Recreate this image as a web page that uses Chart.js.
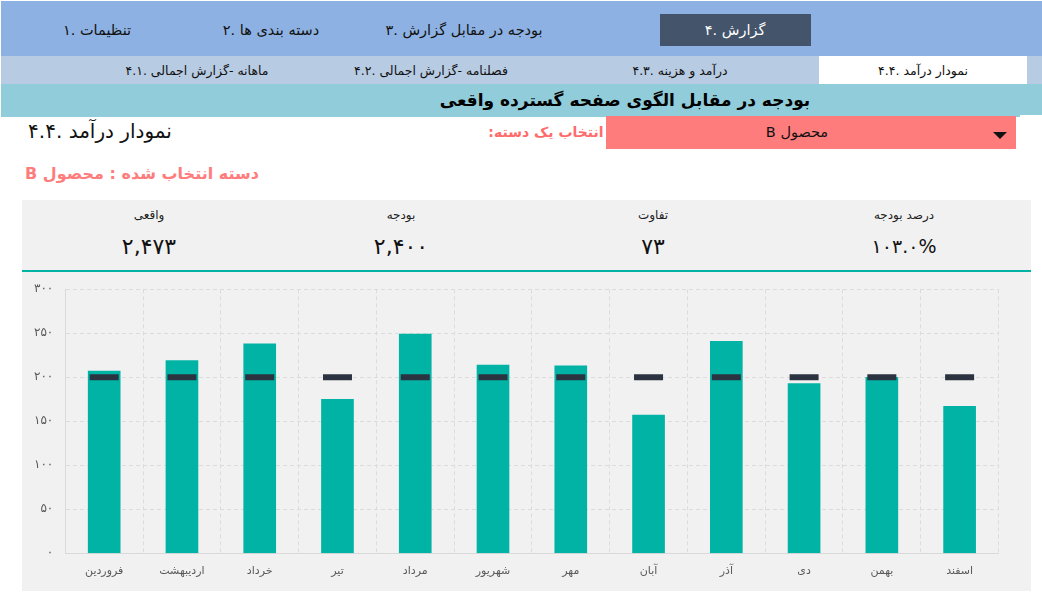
<!DOCTYPE html>
<html lang="fa">
<head>
<meta charset="utf-8">
<title>نمودار درآمد</title>
<script src="https://cdn.jsdelivr.net/npm/chart.js@4"></script>
<style>
  html, body { margin: 0; padding: 0; background: #fff; width: 1042px; height: 604px; overflow: hidden; }
  body { position: relative; font-family: "DejaVu Sans", "Noto Sans", sans-serif; color: #111; }
  .box { position: absolute; }
  .txt { position: absolute; white-space: nowrap; transform: translate(-50%, -50%); }
  canvas { position: absolute; left: 22px; top: 272px; }
</style>
</head>
<body>
<div class="box" style="left:1px;top:1px;width:1041px;height:55px;background:#8db1e2"></div>
<div class="box" style="left:1px;top:56px;width:1041px;height:28px;background:#b7cbe3"></div>
<div class="box" style="left:1px;top:84px;width:1041px;height:33px;background:#91ccda"></div>
<div class="box" style="left:1020px;top:115px;width:22px;height:2px;background:#fff"></div>
<div class="box" style="left:660px;top:14px;width:151px;height:32px;background:#44546a"></div>
<div class="box" style="left:819px;top:56px;width:208px;height:28px;background:#fff"></div>
<div class="box" style="left:606px;top:116px;width:410px;height:33px;background:#ff7c7c"></div>
<div class="box" style="left:993px;top:132px;width:0;height:0;border-left:7px solid transparent;border-right:7px solid transparent;border-top:7px solid #111"></div>
<div class="box" style="left:22px;top:200px;width:1009px;height:391px;background:#f1f1f1"></div>
<div class="box" style="left:22px;top:270px;width:1009px;height:2px;background:#00b3a4"></div>
<div id="texts"></div>
<canvas id="myChart" width="1009" height="319"></canvas>
<script>
var months = ["فروردین", "اردیبهشت", "خرداد", "تیر", "مرداد", "شهریور", "مهر", "آبان", "آذر", "دی", "بهمن", "اسفند"];
var actual = [207, 219, 238, 175, 249, 214, 213, 157, 241, 193, 200, 167];
var budget = [200, 200, 200, 200, 200, 200, 200, 200, 200, 200, 200, 200];
var yTicks = ["۰", "۵۰", "۱۰۰", "۱۵۰", "۲۰۰", "۲۵۰", "۳۰۰"];

var menu = ["تنظیمات .۱", "دسته بندی ها .۲", "بودجه در مقابل گزارش .۳", "گزارش .۴"];
var menuX = [97, 271, 464, 735];
var tabs = ["ماهانه -گزارش اجمالی .۴.۱", "فصلنامه -گزارش اجمالی .۴.۲", "درآمد و هزینه .۴.۳", "نمودار درآمد .۴.۴"];
var tabX = [197, 431, 680, 923];
var kpiNames = ["واقعی", "بودجه", "تفاوت", "درصد بودجه"];
var kpiValues = ["۲,۴۷۳", "۲,۴۰۰", "۷۳", "۱۰۳.۰%"];
var kpiX = [149, 401, 653, 904];

function addText(str, x, y, size, color, bold, dir) {
  var el = document.createElement('div');
  el.className = 'txt';
  el.dir = dir || 'rtl';
  el.textContent = str;
  el.style.left = x + 'px';
  el.style.top = y + 'px';
  el.style.fontSize = size + 'px';
  el.style.color = color || '#111';
  if (bold) el.style.fontWeight = 'bold';
  document.getElementById('texts').appendChild(el);
}

menu.forEach(function (m, i) { addText(m, menuX[i], 30, 14.5, i == 3 ? '#fff' : '#111'); });
tabs.forEach(function (t, i) { addText(t, tabX[i], 70, 12.5, '#111'); });
addText("بودجه در مقابل الگوی صفحه گسترده واقعی", 625, 100, 17, '#000', true);
addText("نمودار درآمد .۴.۴", 100, 131, 20, '#111');
addText("انتخاب یک دسته:", 546, 132, 14, '#ff6b6b', true);
addText("محصول B", 797, 132, 14.5, '#111');
addText("دسته انتخاب شده : محصول B", 142, 173, 16, '#ff7c7c', true);
kpiNames.forEach(function (k, i) {
  addText(k, kpiX[i], 215, 12, '#222');
  addText(kpiValues[i], kpiX[i], 246, i == 3 ? 19 : 22, '#111', false, 'ltr');
});

var ctx = document.getElementById('myChart').getContext('2d');
var chart = new Chart(ctx, {
  type: 'bar',
  data: {
    labels: months,
    datasets: [{
      type: 'line',
      label: 'بودجه',
      data: budget,
      showLine: false,
      pointStyle: 'line',
      pointRadius: 14.5,
      pointBorderWidth: 6,
      pointBorderColor: '#2b3340',
      pointBackgroundColor: '#2b3340',
      order: 0
    }, {
      label: 'واقعی',
      data: actual,
      backgroundColor: '#00b3a4',
      barThickness: 32,
      order: 1
    }]
  },
  options: {
    responsive: false,
    animation: false,
    devicePixelRatio: 1,
    layout: { autoPadding: false, padding: { top: 17.3, right: 32.5, left: 0, bottom: 0 } },
    plugins: { legend: { display: false }, tooltip: { enabled: false } },
    scales: {
      x: {
        offset: true,
        afterFit: function (s) { s.height = 37.7; s.paddingLeft = 0; s.paddingRight = 0; },
        grid: { color: '#dcdcdc', drawTicks: false },
        border: { color: '#d9d9d9', dash: [4, 3] },
        ticks: { color: '#595959', font: { family: 'DejaVu Sans', size: 11 }, padding: 11, maxRotation: 0, autoSkip: false }
      },
      y: {
        min: 0,
        max: 300,
        afterFit: function (s) { s.width = 43.3; s.paddingTop = 0; s.paddingBottom = 0; },
        grid: { color: '#dcdcdc', drawTicks: false },
        border: { color: '#d9d9d9', dash: [4, 3] },
        ticks: {
          stepSize: 50,
          color: '#595959',
          font: { family: 'DejaVu Sans', size: 12 },
          padding: 12,
          callback: function (v, i) { return yTicks[i]; }
        }
      }
    }
  }
});
</script>
</body>
</html>
